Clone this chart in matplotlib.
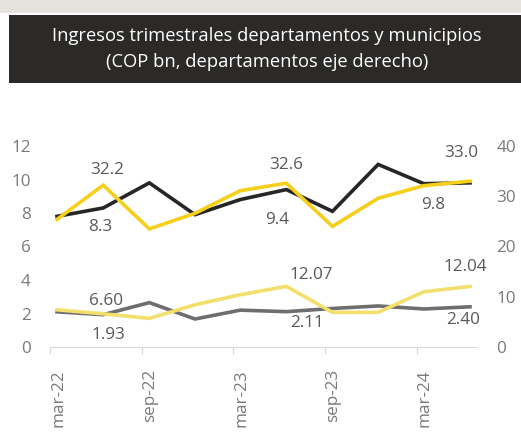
import datetime as dt

import matplotlib
matplotlib.use("Agg")
import matplotlib.pyplot as plt
from matplotlib.patches import Rectangle
from matplotlib.transforms import ScaledTranslation

plt.rcParams["font.family"] = ["Open Sans", "DejaVu Sans"]

# quarterly points (plotted mid-month), ticks every six months
quarters = [dt.date(2022, 3, 15), dt.date(2022, 6, 15), dt.date(2022, 9, 15),
            dt.date(2022, 12, 15), dt.date(2023, 3, 15), dt.date(2023, 6, 15),
            dt.date(2023, 9, 15), dt.date(2023, 12, 15), dt.date(2024, 3, 15),
            dt.date(2024, 6, 15)]
tick_dates = [dt.date(2022, 3, 1), dt.date(2022, 9, 1), dt.date(2023, 3, 1),
              dt.date(2023, 9, 1), dt.date(2024, 3, 1)]
tick_labels = ["mar-22", "sep-22", "mar-23", "sep-23", "mar-24"]

# left axis: municipios
muni_total = [7.8, 8.3, 9.8, 7.9, 8.8, 9.4, 8.1, 10.9, 9.75, 9.8]
muni_other = [2.1, 1.93, 2.65, 1.67, 2.2, 2.11, 2.3, 2.45, 2.27, 2.40]
# right axis: departamentos
depto_total = [25.4, 32.2, 23.5, 26.6, 31.1, 32.6, 24.0, 29.6, 32.1, 33.0]
depto_other = [7.4, 6.60, 5.7, 8.4, 10.4, 12.07, 6.9, 6.9, 11.0, 12.04]

labelled = [1, 5, 9]  # jun-22, jun-23, jun-24

BLACK = "#262626"
YELLOW = "#f5cf1a"
GRAY = "#6e6e6e"
LIGHT_YELLOW = "#f3df6c"
TXT = "#595959"
TICK_TXT = "#7a7a7a"

fig = plt.figure(figsize=(5.21, 4.43), dpi=100)
fig.patch.set_facecolor("white")

# screenshot strip + dark title box
fig.patches.append(Rectangle((0, 1 - 13 / 443), 1, 13 / 443, transform=fig.transFigure,
                             facecolor="#e6e3df", edgecolor="none", zorder=0))
fig.patches.append(Rectangle((9 / 521, 1 - 83 / 443), 1, 68 / 443, transform=fig.transFigure,
                             facecolor="#2b2a28", edgecolor="none", zorder=0))
fig.text(267 / 521, 1 - 36 / 443, "Ingresos trimestrales departamentos y municipios",
         color="white", fontsize=13.2, ha="center", va="center")
fig.text(267 / 521, 1 - 62 / 443, "(COP bn, departamentos eje derecho)",
         color="white", fontsize=13.2, ha="center", va="center")

ax = fig.add_axes([50 / 521, 96 / 443, 427 / 521, 201 / 443])
ax2 = ax.twinx()

ax.plot(quarters, muni_total, color=BLACK, lw=2.6, solid_joinstyle="miter")
ax.plot(quarters, muni_other, color=GRAY, lw=2.6, solid_joinstyle="miter")
ax2.plot(quarters, depto_total, color=YELLOW, lw=2.6, solid_joinstyle="miter")
ax2.plot(quarters, depto_other, color=LIGHT_YELLOW, lw=2.6, solid_joinstyle="miter")

ax.set_ylim(0, 12)
ax.set_yticks(range(0, 13, 2))
ax2.set_ylim(0, 40)
ax2.set_yticks(range(0, 41, 10))
ax.set_xlim(dt.date(2022, 3, 1), dt.date(2024, 6, 29))
ax.set_xticks(tick_dates)
ax.set_xticklabels(tick_labels, rotation=90)

for a in (ax, ax2):
  for s in a.spines.values():
    s.set_visible(False)
  a.tick_params(axis="y", length=0, labelsize=12.3, labelcolor=TICK_TXT, pad=14)
ax.spines["bottom"].set_visible(True)
ax.spines["bottom"].set_color("#d9d9d9")
ax.tick_params(axis="x", length=5, color="#d9d9d9", labelsize=12.3,
               labelcolor=TICK_TXT, pad=11)
# labels sit slightly right of the tick marks
shift = ScaledTranslation(8 / 100, 0, fig.dpi_scale_trans)
for lbl in ax.get_xticklabels():
  lbl.set_transform(lbl.get_transform() + shift)

# data labels (pixel offsets from the point)
muni_total_off = [(-3, -19), (-9, -30), (-37, -22)]
depto_total_off = [(4, 15), (0, 18), (-9, 28)]
muni_other_off = [(5, -20), (21, -11), (-7, -13)]
depto_other_off = [(3, 13), (25, 11), (-5, 19)]


def fmt(v, digits):
  return f"{v:.{digits}f}"


for k, i in enumerate(labelled):
  ax.annotate(fmt(muni_total[i], 1), (quarters[i], muni_total[i]),
              xytext=muni_total_off[k], textcoords="offset pixels",
              ha="center", va="center", fontsize=12.3, color=TXT)
  ax2.annotate(fmt(depto_total[i], 1), (quarters[i], depto_total[i]),
               xytext=depto_total_off[k], textcoords="offset pixels",
               ha="center", va="center", fontsize=12.3, color=TXT)
  ax.annotate(fmt(muni_other[i], 2), (quarters[i], muni_other[i]),
              xytext=muni_other_off[k], textcoords="offset pixels",
              ha="center", va="center", fontsize=12.3, color=TXT)
  ax2.annotate(fmt(depto_other[i], 2), (quarters[i], depto_other[i]),
               xytext=depto_other_off[k], textcoords="offset pixels",
               ha="center", va="center", fontsize=12.3, color=TXT)

fig.savefig("out.png", dpi=100)
